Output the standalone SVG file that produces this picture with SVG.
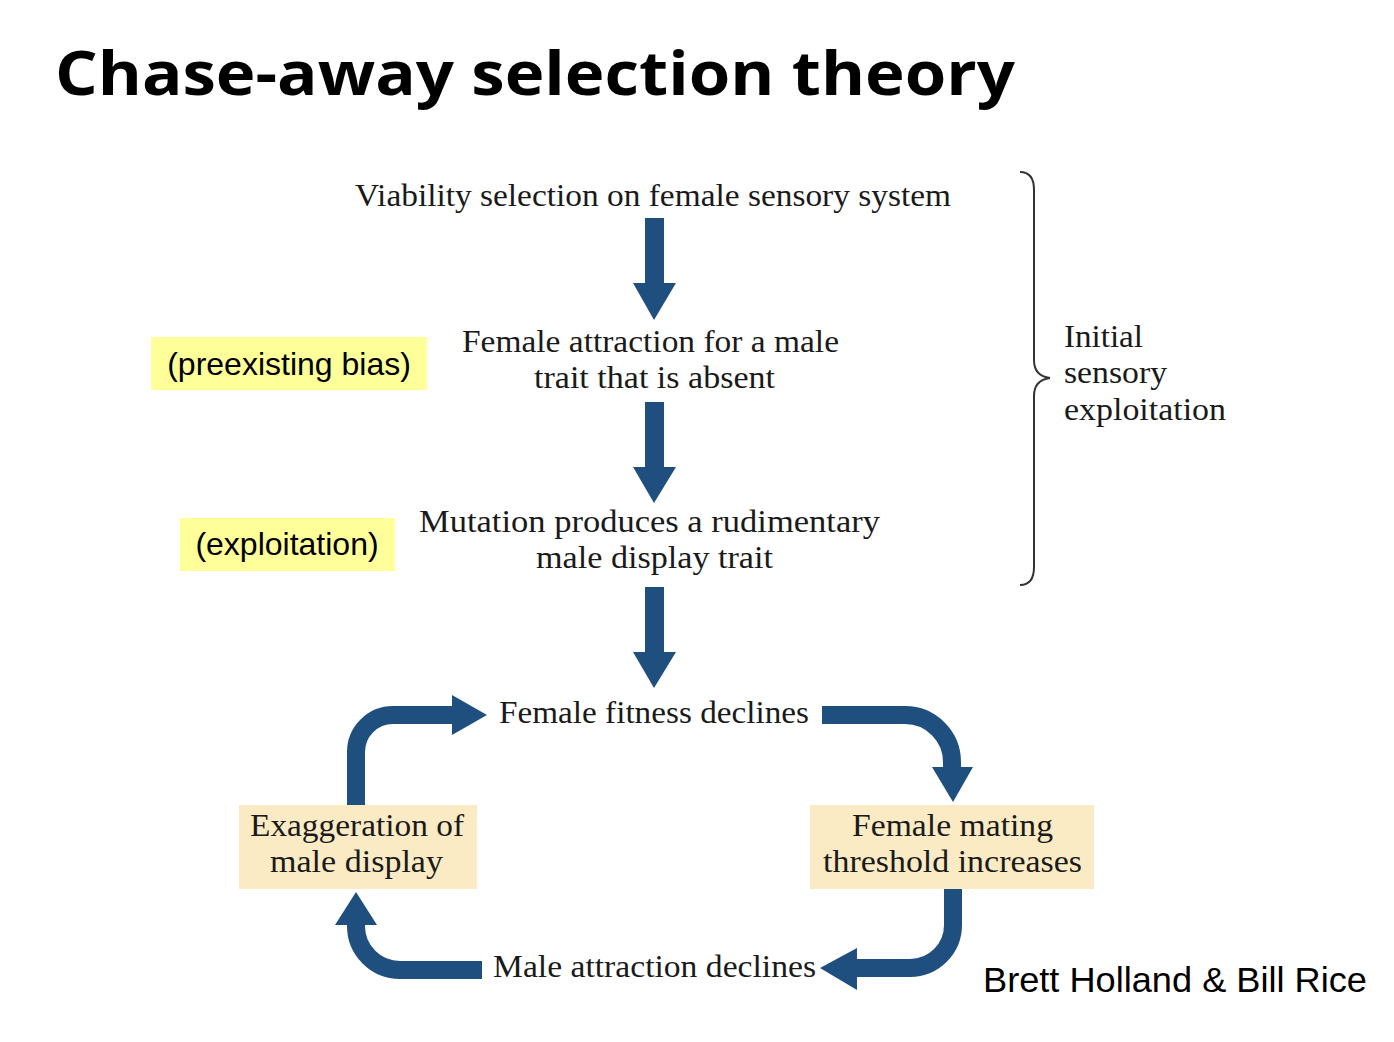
<svg xmlns="http://www.w3.org/2000/svg" width="1394" height="1042" viewBox="0 0 1394 1042">
<style>
.serif{font-family:"Liberation Serif","DejaVu Serif",serif;font-size:31px;fill:#1a1a1a}
.sans{font-family:"Liberation Sans",Arial,sans-serif;fill:#000}
.title{font-family:"Open Sans","Liberation Sans",sans-serif;font-weight:bold;font-size:60px;fill:#000}
.shaft{fill:none;stroke:#1f4f7f;stroke-width:18}
.head{fill:#1f4f7f}
.ybox{fill:#ffff99}
.bbox{fill:#faebc4}
</style>
<rect width="1394" height="1042" fill="#fff"/>
<text x="55" y="95" class="title" textLength="960" lengthAdjust="spacingAndGlyphs">Chase-away selection theory</text>

<g id="connectors">
  <rect x="645" y="218" width="19" height="66" class="head"/>
  <polygon points="633,283 676,283 654,320" class="head"/>
  <rect x="645" y="402" width="19" height="66" class="head"/>
  <polygon points="633,467 676,467 654,503" class="head"/>
  <rect x="645" y="587" width="19" height="66" class="head"/>
  <polygon points="633,652 676,652 654,688" class="head"/>

  <path d="M356,805 V752 A37,37 0 0 1 393,715 H455" class="shaft"/>
  <polygon points="452,695 487,715 452,735" class="head"/>

  <path d="M822,715 H905 A47,47 0 0 1 952,762 V769" class="shaft"/>
  <polygon points="932,767 973,767 953,802" class="head"/>

  <path d="M953,889 V925 A43,43 0 0 1 910,968 H855" class="shaft"/>
  <polygon points="857,948 857,990 820,968" class="head"/>

  <path d="M482,970 H400 A44,44 0 0 1 356,926 V923" class="shaft"/>
  <polygon points="335,925 377,925 356,892" class="head"/>

  <path d="M1020,172 Q1034,172 1034,190 V360 Q1034,376 1050,378 Q1034,380 1034,396 V567 Q1034,585 1020,585" fill="none" stroke="#333" stroke-width="2"/>
</g>

<g id="n1"><text x="355" y="206" class="serif" textLength="596" lengthAdjust="spacingAndGlyphs">Viability selection on female sensory system</text></g>
<g id="n2">
  <text x="462" y="352" class="serif" textLength="377" lengthAdjust="spacingAndGlyphs">Female attraction for a male</text>
  <text x="534" y="388" class="serif" textLength="241" lengthAdjust="spacingAndGlyphs">trait that is absent</text>
</g>
<g id="n3">
  <text x="419" y="532" class="serif" textLength="461" lengthAdjust="spacingAndGlyphs">Mutation produces a rudimentary</text>
  <text x="536" y="568" class="serif" textLength="237" lengthAdjust="spacingAndGlyphs">male display trait</text>
</g>
<g id="n4"><text x="499" y="723" class="serif" textLength="310" lengthAdjust="spacingAndGlyphs">Female fitness declines</text></g>
<g id="n5">
  <rect x="810" y="805" width="284" height="84" class="bbox"/>
  <text x="852" y="836" class="serif" textLength="201" lengthAdjust="spacingAndGlyphs">Female mating</text>
  <text x="823" y="872" class="serif" textLength="259" lengthAdjust="spacingAndGlyphs">threshold increases</text>
</g>
<g id="n6"><text x="493" y="977" class="serif" textLength="323" lengthAdjust="spacingAndGlyphs">Male attraction declines</text></g>
<g id="n7">
  <rect x="239" y="805" width="238" height="84" class="bbox"/>
  <text x="250" y="836" class="serif" textLength="214" lengthAdjust="spacingAndGlyphs">Exaggeration of</text>
  <text x="270" y="872" class="serif" textLength="173" lengthAdjust="spacingAndGlyphs">male display</text>
</g>
<g id="brace-label">
  <text x="1064" y="347" class="serif" textLength="79" lengthAdjust="spacingAndGlyphs">Initial</text>
  <text x="1064" y="383" class="serif" textLength="103" lengthAdjust="spacingAndGlyphs">sensory</text>
  <text x="1064" y="420" class="serif" textLength="162" lengthAdjust="spacingAndGlyphs">exploitation</text>
</g>
<g id="label-bias">
  <rect x="151" y="337" width="276" height="53" class="ybox"/>
  <text x="289" y="375" class="sans" font-size="32" text-anchor="middle">(preexisting bias)</text>
</g>
<g id="label-exploit">
  <rect x="180" y="518" width="215" height="53" class="ybox"/>
  <text x="287" y="555" class="sans" font-size="32" text-anchor="middle">(exploitation)</text>
</g>
<text x="983" y="992" class="sans" font-size="35" textLength="384" lengthAdjust="spacingAndGlyphs">Brett Holland &amp; Bill Rice</text>
</svg>
